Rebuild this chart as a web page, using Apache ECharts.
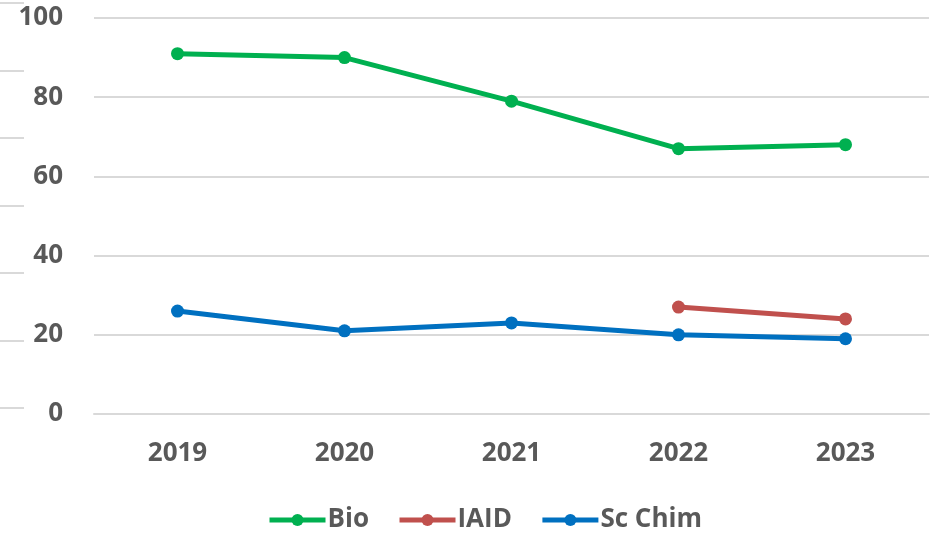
<!DOCTYPE html>
<html>
<head>
  <meta charset='utf-8'>
  <script src="https://cdn.jsdelivr.net/npm/echarts@6/dist/echarts.min.js"></script>
  <title>Line chart</title>
  <style>
    html, body { margin: 0; padding: 0; background: #fff; }
  </style>
</head>
<body>
<div id="main" style="width: 936px;height:534px;"></div>
<script type="text/javascript">
  // data
  var years = ['2019', '2020', '2021', '2022', '2023'];
  var bio = [91, 90, 79, 67, 68];
  var iaid = [null, null, null, 27, 24];
  var scChim = [26, 21, 23, 20, 19];
  var seriesNames = ['Bio', 'IAID', 'Sc Chim'];
  var colors = ['#00B050', '#C0504D', '#0070C0'];

  var textColor = '#595959';
  var gridColor = '#d9d9d9';
  var font = '"Open Sans", "Liberation Sans", sans-serif';

  var myChart = echarts.init(document.getElementById('main'));

  function makeLine(name, data, color) {
    return {
      name: name,
      type: 'line',
      data: data,
      xAxisIndex: 0,
      yAxisIndex: 0,
      symbol: 'circle',
      symbolSize: 13,
      connectNulls: false,
      itemStyle: { color: color },
      lineStyle: { color: color, width: 5 },
      emphasis: { disabled: true },
      z: 3
    };
  }

  var option = {
    backgroundColor: '#ffffff',
    animation: false,
    textStyle: { fontFamily: font },
    legend: {
      data: seriesNames,
      bottom: -4,
      left: 262,
      itemWidth: 56,
      itemHeight: 15,
      itemGap: 28,
      lineStyle: { width: 5 },
      itemStyle: { borderWidth: 0 },
      textStyle: { color: textColor, fontSize: 26, fontWeight: 'bold', fontFamily: font, padding: [0, 0, 0, -3] }
    },
    grid: [
      { left: 94, right: 7, top: 18, bottom: 120 },
      // small stray rules at the left edge
      { left: 0, width: 24, top: 3, bottom: 126 }
    ],
    xAxis: [
      {
        gridIndex: 0,
        type: 'category',
        data: years,
        boundaryGap: true,
        axisLine: { show: true, lineStyle: { color: gridColor, width: 2 } },
        axisTick: { show: false },
        axisLabel: { color: textColor, fontSize: 26, fontWeight: 'bold', fontFamily: font, margin: 27 }
      },
      { gridIndex: 1, type: 'value', show: false }
    ],
    yAxis: [
      {
        gridIndex: 0,
        type: 'value',
        min: 0,
        max: 100,
        interval: 20,
        axisLine: { show: false },
        axisTick: { show: false },
        axisLabel: { color: textColor, fontSize: 26, fontWeight: 'bold', fontFamily: font, margin: 31 },
        splitLine: { lineStyle: { color: gridColor, width: 2 } }
      },
      {
        gridIndex: 1,
        type: 'value',
        min: 0,
        max: 6,
        interval: 1,
        axisLine: { show: false },
        axisTick: { show: false },
        axisLabel: { show: false },
        splitLine: { lineStyle: { color: gridColor, width: 2 } }
      }
    ],
    series: [
      makeLine(seriesNames[0], bio, colors[0]),
      makeLine(seriesNames[1], iaid, colors[1]),
      makeLine(seriesNames[2], scChim, colors[2])
    ]
  };

  myChart.setOption(option);
</script>
</body>
</html>
